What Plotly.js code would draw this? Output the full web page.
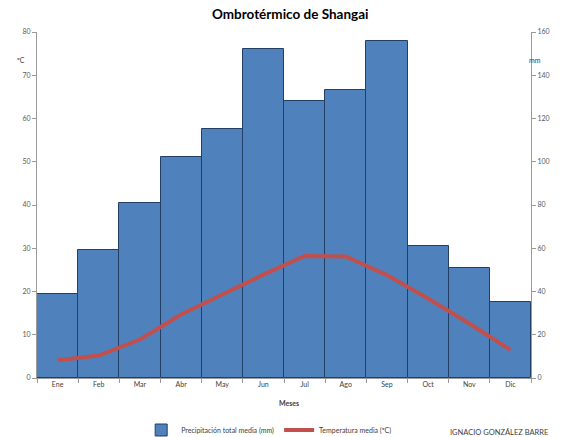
<!DOCTYPE html>
<html>
<head>
<meta charset="utf-8">
<script src="https://cdn.plot.ly/plotly-3.0.1.min.js"></script>
<style>html,body{margin:0;padding:0;background:#fff;}#chart{width:569px;height:437px;}</style>
</head>
<body>
<div id="chart"></div>
<script>
var months = ["Ene","Feb","Mar","Abr","May","Jun","Jul","Ago","Sep","Oct","Nov","Dic"];
var precipitation = [39, 59, 81, 102, 115, 152, 128, 133, 156, 61, 51, 35];
var temperature = [4.1, 5.2, 8.9, 14.7, 19.3, 23.9, 28.2, 28.1, 23.8, 18.4, 12.6, 6.5];
var tempTicks = [0,10,20,30,40,50,60,70,80];
var precTicks = [0,20,40,60,80,100,120,140,160];

var fnt = "Lato, 'Open Sans', sans-serif";
var traces = [
  {type:"bar", x:months, y:precipitation, yaxis:"y", name:"Precipitación total media (mm)",
   marker:{color:"#4F81BD", line:{color:"#243F66", width:1}}},
  {type:"scatter", mode:"lines", x:months, y:temperature, yaxis:"y2", name:"Temperatura media (ºC)",
   line:{color:"#C0504D", width:4}}
];
var layout = {
  width:569, height:437,
  margin:{l:37, r:38, t:32, b:59},
  paper_bgcolor:"#fff", plot_bgcolor:"#fff",
  font:{family:fnt, size:7, color:"#595959"},
  bargap:0,
  showlegend:true,
  title:{text:"<b>Ombrotérmico de Shangai</b>", x:0.51, xanchor:"center", y:0.968, yanchor:"middle",
         font:{family:fnt, size:13.5, color:"#000"}},
  xaxis:{type:"category", showline:true, linecolor:"#9a9a9a", linewidth:1, automargin:false,
         ticks:"outside", tickson:"boundaries", ticklen:4, tickcolor:"#9a9a9a",
         showgrid:false, zeroline:false, tickfont:{size:7, color:"#404040"}},
  yaxis:{side:"right", range:[0,160], tickvals:precTicks, showline:true, linecolor:"#9a9a9a", automargin:false,
         ticks:"outside", ticklen:4, tickcolor:"#9a9a9a", showgrid:false, zeroline:false,
         tickfont:{size:7, color:"#595959"}},
  yaxis2:{side:"left", overlaying:"y", range:[0,80], tickvals:tempTicks, showline:true, linecolor:"#9a9a9a", automargin:false,
          ticks:"outside", ticklen:4, tickcolor:"#9a9a9a", showgrid:false, zeroline:false,
          tickfont:{size:7, color:"#595959"}},
  legend:{orientation:"h", x:0.47, xanchor:"center", yref:"container", y:0.016, yanchor:"middle",
          itemwidth:30, font:{size:7, color:"#404040"}, bgcolor:"rgba(0,0,0,0)"},
  annotations:[
    {text:"<b>Meses</b>", xref:"paper", yref:"paper", x:0.51, y:-0.09, showarrow:false,
     font:{size:7, color:"#404040"}},
    {text:"ºC", xref:"paper", yref:"paper", x:-0.045, y:0.936, showarrow:false, font:{size:7, color:"#404040"}},
    {text:"mm", xref:"paper", yref:"paper", x:1.024, y:0.936, showarrow:false, font:{size:7, color:"#404040"}},
    {text:"IGNACIO GONZÁLEZ BARRE", xref:"paper", yref:"paper", x:0.832, xanchor:"left", y:-0.157, yanchor:"middle",
     showarrow:false, font:{size:7.5, color:"#404040"}}
  ]
};
Plotly.newPlot("chart", traces, layout, {displayModeBar:false});
</script>
</body>
</html>
